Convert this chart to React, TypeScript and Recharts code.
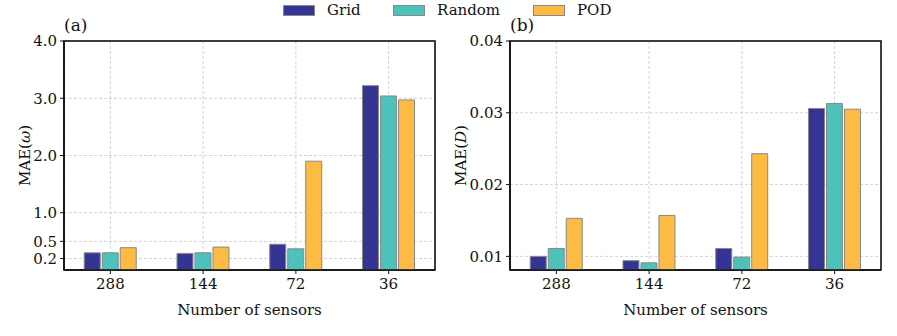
import React from "react";
import * as R from "recharts";
import { BarChart, Bar, XAxis, YAxis, CartesianGrid } from "recharts";

const categories = ["288", "144", "72", "36"];
const gridOmega = [0.3, 0.29, 0.45, 3.22];
const randomOmega = [0.3, 0.3, 0.37, 3.04];
const podOmega = [0.39, 0.4, 1.9, 2.97];
const gridD = [0.01, 0.0094, 0.0111, 0.0306];
const randomD = [0.0111, 0.0091, 0.0099, 0.0313];
const podD = [0.0153, 0.0157, 0.0243, 0.0305];
const ticksOmega = [0.2, 0.5, 1.0, 2.0, 3.0, 4.0];
const ticksD = [0.01, 0.02, 0.03, 0.04];
const seriesNames = ["Grid", "Random", "POD"];
const colors = ["#343495", "#4CC2BA", "#FDBB44"];

const dataOmega = categories.map((c, i) => ({ cat: c, Grid: gridOmega[i], Random: randomOmega[i], POD: podOmega[i] }));
const dataD = categories.map((c, i) => ({ cat: c, Grid: gridD[i], Random: randomD[i], POD: podD[i] }));

const FONT = "'DejaVu Serif', serif";
const tickStyle = { fontFamily: FONT, fontSize: 15, fill: "#111" };
const legendLefts = [283, 393, 533];
const FRAME = "#111111";

const LegendBox = () => (
  <div style={{ position: "absolute", left: 0, top: 0, width: 897, height: 22, fontFamily: FONT, fontSize: 15, color: "#111", whiteSpace: "nowrap" }}>
    {seriesNames.map((n, i) => (
      <React.Fragment key={n}>
        <div style={{ position: "absolute", left: legendLefts[i], top: 4.5, width: 30, height: 9, background: colors[i], border: "1px solid #888" }} />
        <span style={{ position: "absolute", left: legendLefts[i] + 44, top: 0, lineHeight: "20px" }}>{n}</span>
      </React.Fragment>
    ))}
  </div>
);

const usePA: any = (R as any).usePlotArea || (R as any).useOffset;

const Frame = () => {
  const pa = usePA ? usePA() : null;
  if (!pa) return null;
  return <rect x={pa.x ?? pa.left} y={pa.y ?? pa.top} width={pa.width} height={pa.height} fill="none" stroke={FRAME} strokeWidth={1.6} />;
};

const YLabel = ({ x, y, sym }: { x: number; y: number; sym: string }) => (
  <text x={x} y={y} transform={`rotate(-90 ${x} ${y})`} textAnchor="middle" dominantBaseline="central" style={{ fontFamily: FONT, fontSize: 15, fill: "#111" }}>
    <tspan>MAE(</tspan>
    <tspan fontStyle="italic">{sym}</tspan>
    <tspan>)</tspan>
  </text>
);

function Panel({ data, ticks, domain, fmt, sym, tag, labelX }: any) {
  return (
    <BarChart
      width={450}
      height={336}
      data={data}
      margin={{ top: 41, right: 15, left: 14, bottom: 36 }}
      barCategoryGap="21.8%"
      barGap={2}
    >
      <CartesianGrid stroke="#c8c8c8" strokeDasharray="3 2" strokeWidth={0.8} />
      <XAxis
        dataKey="cat"
        height={30}
        tick={tickStyle}
        tickSize={4}
        tickMargin={4}
        axisLine={{ stroke: FRAME, strokeWidth: 1.6 }}
        tickLine={{ stroke: FRAME, strokeWidth: 1 }}
        label={{ value: "Number of sensors", position: "insideBottom", offset: -15, style: { fontFamily: FONT, fontSize: 15, fill: "#111" } }}
      />
      <YAxis
        width={50}
        domain={domain}
        ticks={ticks}
        interval={0}
        allowDataOverflow
        tickFormatter={fmt}
        tick={tickStyle}
        tickSize={4}
        tickMargin={3}
        axisLine={{ stroke: FRAME, strokeWidth: 1.6 }}
        tickLine={{ stroke: FRAME, strokeWidth: 1 }}
      />
      {seriesNames.map((n, i) => (
        <Bar key={n} dataKey={n} fill={colors[i]} stroke="#888" strokeWidth={1} isAnimationActive={false} />
      ))}
      <Frame />
      <text x={64} y={25} dominantBaseline="central" style={{ fontFamily: FONT, fontSize: 17, fill: "#111" }}>{tag}</text>
      <YLabel x={labelX} y={155.5} sym={sym} />
    </BarChart>
  );
}

export default function App() {
  return (
    <div style={{ position: "absolute", left: 0, top: 0, width: 897, height: 336, background: "#fff" }}>
      <div style={{ position: "absolute", left: 0, top: 0 }}>
        <Panel data={dataOmega} ticks={ticksOmega} domain={[0, 4]} fmt={(v: number) => v.toFixed(1)} sym="ω" tag="(a)" labelX={25} />
      </div>
      <div style={{ position: "absolute", left: 446, top: 0 }}>
        <Panel data={dataD} ticks={ticksD} domain={[0.0081, 0.04]} fmt={(v: number) => v.toFixed(2)} sym="D" tag="(b)" labelX={15} />
      </div>
      <LegendBox />
    </div>
  );
}
